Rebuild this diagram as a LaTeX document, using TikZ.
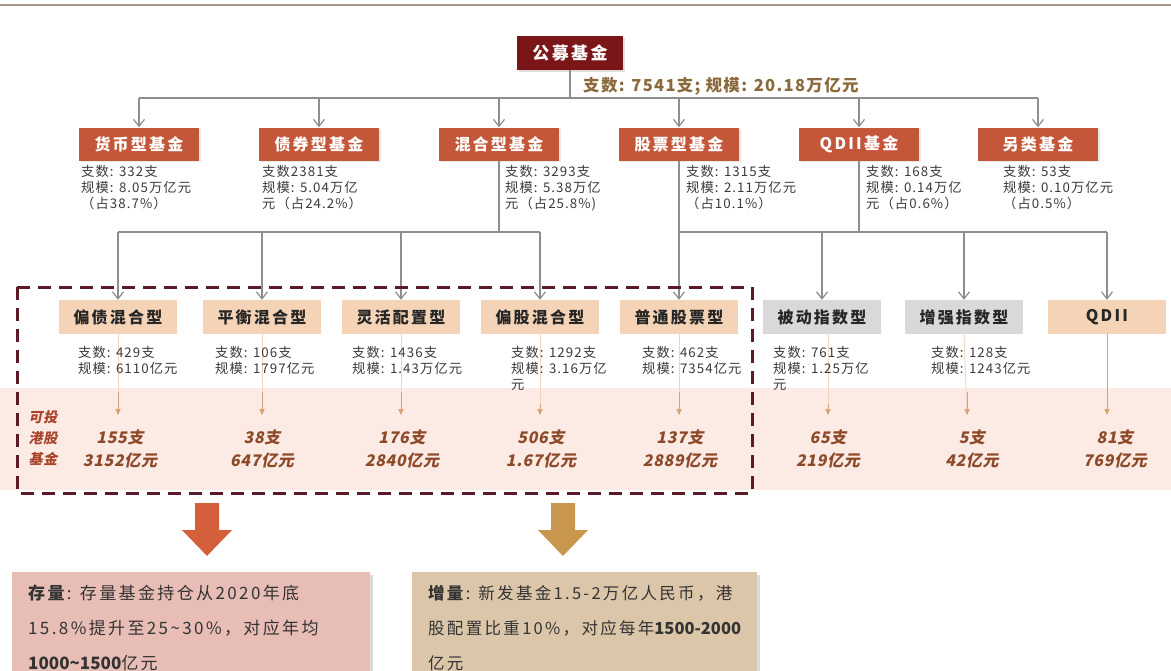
\documentclass[tikz,border=0pt]{standalone}
\usepackage{fontspec}
\setmainfont{Noto Sans CJK SC}[LetterSpace=8]
\newfontfamily\valfont{Noto Sans CJK SC}[LetterSpace=4,FakeSlant=0.2]
\newfontfamily\widefont{Noto Sans CJK SC}[LetterSpace=14]
\newfontfamily\tightfont{Noto Sans CJK SC}[LetterSpace=0]
\usetikzlibrary{arrows.meta,shadows}
\definecolor{rootc}{HTML}{7A1518}
\definecolor{catc}{HTML}{C4573A}
\definecolor{linec}{HTML}{8E8E8E}
\definecolor{labc}{HTML}{8A6A3C}
\definecolor{txtc}{HTML}{3A3A3A}
\definecolor{beige}{HTML}{F4D3B6}
\definecolor{grayb}{HTML}{D9D9D9}
\definecolor{pinkband}{HTML}{FCEAE5}
\definecolor{tanarrow}{HTML}{D9A273}
\definecolor{valc}{HTML}{8C4A28}
\definecolor{leftc}{HTML}{A8452B}
\definecolor{dashc}{HTML}{5C1A27}
\definecolor{bigl}{HTML}{D45F3A}
\definecolor{bigr}{HTML}{C8964F}
\definecolor{boxl}{HTML}{E8BDB6}
\definecolor{boxr}{HTML}{DCC6A9}
\definecolor{rulec}{HTML}{A99289}
\begin{document}
\begin{tikzpicture}[x=1pt,y=-1pt,
  rootbox/.style={fill=rootc,text=white,minimum width=106pt,minimum height=34pt,inner sep=0pt,
    font=\widefont\fontsize{17}{20}\selectfont\bfseries,drop shadow={opacity=0.25,shadow xshift=1.5pt,shadow yshift=-1.5pt}},
  catbox/.style={fill=catc,text=white,minimum width=120pt,minimum height=33pt,inner sep=0pt,
    font=\widefont\fontsize{16}{18}\selectfont\bfseries,drop shadow={opacity=0.18,shadow xshift=1.5pt,shadow yshift=-1.5pt}},
  subbox/.style={fill=beige,text=black!85,minimum width=118pt,minimum height=34pt,inner sep=0pt,
    font=\widefont\fontsize{16}{18}\selectfont\bfseries},
  idxbox/.style={subbox,fill=grayb},
  stat/.style={anchor=north west,align=left,text=txtc,inner sep=0pt,font=\fontsize{13.3}{16}\selectfont},
  val/.style={align=center,text=valc,inner sep=0pt,font=\valfont\bfseries\fontsize{16}{23}\selectfont},
  conn/.style={draw=linec,line width=1.2pt},
  arr/.style={conn,-{Straight Barb[length=7pt,width=11pt]}},
  smallarr/.style={draw=tanarrow,line width=0.9pt,-{Triangle[length=6pt,width=5pt]}},
  bigtext/.style={anchor=north west,align=left,text=black!80,inner sep=0pt,font=\widefont\fontsize{17}{35}\selectfont}
]
\useasboundingbox (0,0) rectangle (1171,670);
% top rule
\draw[rulec,line width=2.5pt] (0,5) -- (1171,5);
% pink band
\fill[pinkband] (0,388) rectangle (1171,490);

% root
\node[rootbox] (root) at (570,53) {公募基金};
\coordinate (bus0) at (570,98);
\node[anchor=west,text=labc,inner sep=0pt,font=\fontsize{16.5}{18}\selectfont\bfseries] (tot) at (583,86) {支数: 7541支; 规模: 20.18万亿元};

% categories
\node[catbox] (c1) at (139,144) {货币型基金};
\node[catbox] (c2) at (319,144) {债券型基金};
\node[catbox] (c3) at (499,144) {混合型基金};
\node[catbox] (c4) at (679,144) {股票型基金};
\node[catbox] (c5) at (859,144) {QDII基金};
\node[catbox] (c6) at (1038,144) {另类基金};

\draw[conn] (root.south) -- (bus0);
\draw[conn] (c1 |- bus0) -- (c6 |- bus0);
\foreach \c in {c1,c2,c3,c4,c5,c6}{\draw[arr] (\c |- bus0) -- (\c.north);}

% category stats
\node[stat] (s1) at (81,165) {支数: 332支\\规模: 8.05万亿元\\（占38.7\%）};
\node[stat] (s2) at (262,165) {支数2381支\\规模: 5.04万亿\\元（占24.2\%）};
\node[stat] (s3) at (505,165) {支数: 3293支\\规模: 5.38万亿\\元（占25.8\%)};
\node[stat] (s4) at (686,165) {支数: 1315支\\规模: 2.11万亿元\\（占10.1\%）};
\node[stat] (s5) at (866,165) {支数: 168支\\规模: 0.14万亿\\元（占0.6\%）};
\node[stat] (s6) at (1003,165) {支数: 53支\\规模: 0.10万亿元\\（占0.5\%）};

% sub types
\node[subbox] (m1) at (118,317) {偏债混合型};
\node[subbox] (m2) at (262,317) {平衡混合型};
\node[subbox] (m3) at (401,317) {灵活配置型};
\node[subbox] (m4) at (540,317) {偏股混合型};
\node[subbox] (m5) at (679,317) {普通股票型};
\node[idxbox] (m6) at (822,317) {被动指数型};
\node[idxbox] (m7) at (964,317) {增强指数型};
\node[subbox] (m8) at (1107,317) {QDII};

\coordinate (bus2) at (499,232);
\draw[conn] (c3.south) -- (c3 |- bus2);
\draw[conn] (m1 |- bus2) -- (m4 |- bus2);
\draw[conn] (c4.south) -- (c4 |- bus2);
\draw[conn] (c5.south) -- (c5 |- bus2);
\draw[conn] (m5 |- bus2) -- (m8 |- bus2);
\foreach \m in {m1,m2,m3,m4,m5,m6,m7,m8}{\draw[arr] (\m |- bus2) -- (\m.north);}

% small arrows into values
\foreach \n/\x in {1/118,2/262,3/401,4/540,5/679,6/828,7/967,8/1107}{
  \coordinate (e\n) at (\x,415);
}
\draw[smallarr,draw=tanarrow!45] (m1.south) -- (e1);
\draw[smallarr,draw=tanarrow!45] (m2.south) -- (e2);
\draw[smallarr,draw=tanarrow!45] (m3.south) -- (e3);
\draw[smallarr,draw=tanarrow!45] (m4.south) -- (e4);
\draw[smallarr,draw=tanarrow!45] (m5.south) -- (e5);
\draw[smallarr,draw=tanarrow!45] (m6.south -| e6) -- (e6);
\draw[smallarr,draw=tanarrow!45] (m7.south) -- (e7);
\draw[smallarr] (m8.south) -- (e8);
\foreach \n/\x in {1/118,2/262,3/401,5/679,7/967}{
  \draw[smallarr] (\x,392) -- (e\n);
}
\draw[smallarr] (540,404) -- (e4);
\draw[smallarr] (828,404) -- (e6);

% sub stats
\node[stat] (t1) at (78,346) {支数: 429支\\规模: 6110亿元};
\node[stat] (t2) at (215,346) {支数: 106支\\规模: 1797亿元};
\node[stat] (t3) at (352,346) {支数: 1436支\\规模: 1.43万亿元};
\node[stat] (t4) at (511,346) {支数: 1292支\\规模: 3.16万亿\\元};
\node[stat] (t5) at (642,346) {支数: 462支\\规模: 7354亿元};
\node[stat] (t6) at (773,346) {支数: 761支\\规模: 1.25万亿\\元};
\node[stat] (t7) at (931,346) {支数: 128支\\规模: 1243亿元};

% values
\node[val] (v1) at (120,449) {155支\\3152亿元};
\node[val] (v2) at (262,449) {38支\\647亿元};
\node[val] (v3) at (402,449) {176支\\2840亿元};
\node[val] (v4) at (541,449) {506支\\1.67亿元};
\node[val] (v5) at (680,449) {137支\\2889亿元};
\node[val] (v6) at (828,449) {65支\\219亿元};
\node[val] (v7) at (972,449) {5支\\42亿元};
\node[val] (v8) at (1115,449) {81支\\769亿元};
\node[align=center,text=leftc,inner sep=0pt,font=\valfont\bfseries\fontsize{14}{21}\selectfont] (hk) at (43,438) {可投\\港股\\基金};

% dashed frame
\draw[dashc,line width=3pt,dash pattern=on 13pt off 8pt] (17,287) rectangle (752,493);

% big arrows
\fill[bigl] (195,503) -- (219,503) -- (219,530) -- (232,530) -- (207,556) -- (182,530) -- (195,530) -- cycle;
\fill[bigr] (551,503) -- (575,503) -- (575,530) -- (588,530) -- (563,556) -- (538,530) -- (551,530) -- cycle;

% bottom boxes
\fill[black,opacity=0.15] (15,575) rectangle (373,672);
\fill[boxl] (12,572) rectangle (370,672);
\fill[black,opacity=0.15] (415,575) rectangle (760,672);
\fill[boxr] (412,572) rectangle (757,672);
\node[bigtext] (bl) at (28,585) {\textbf{存量}: 存量基金持仓从2020年底\\15.8\%提升至25\textasciitilde30\%，对应年均\\{\tightfont\bfseries 1000\textasciitilde1500}亿元};
\node[bigtext,font=\widefont\fontsize{16.5}{35}\selectfont] (br) at (428,585) {\textbf{增量}: 新发基金1.5-2万亿人民币，港\\股配置比重10\%，对应每年{\tightfont\bfseries 1500-2000}\\亿元};
\end{tikzpicture}
\end{document}
